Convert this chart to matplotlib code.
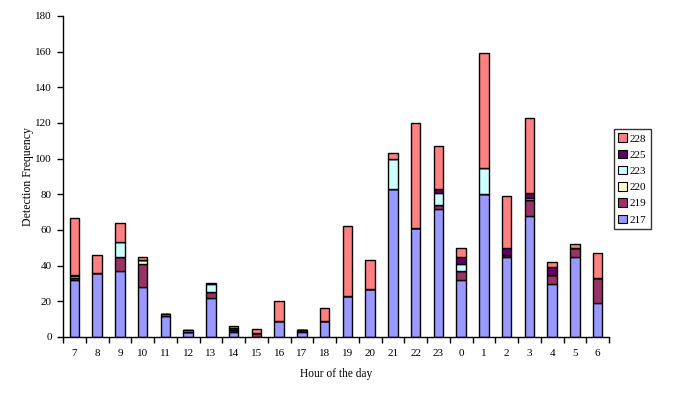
import matplotlib
matplotlib.use("Agg")
import matplotlib.pyplot as plt
import numpy as np
from matplotlib.patches import Patch

hours = ["7","8","9","10","11","12","13","14","15","16","17","18","19","20","21","22","23","0","1","2","3","4","5","6"]
s217 = [32,36,37,28,12,3,22,3,0,9,3,9,23,27,83,61,72,32,80,45,68,30,45,19]
s219 = [1,0,8,13,0,0,3,1,2,0,1,0,0,0,0,0,2,5,0,1,9,5,5,14]
s220 = [0,0,0,2,1,0,0,0,0,0,0,0,0,0,0,0,0,0,0,0,0,0,0,0]
s223 = [1,0,8,0,0,1,5,0,0,0,0,0,0,0,17,0,7,4,15,0,1,0,0,0]
s225 = [1,0,0,0,0,0,0,1,0,0,0,0,0,0,0,0,2,4,0,4,3,4,0,0]
s228 = [32,10,11,2,0,0,0,1,2.5,11,0,7,39,16,3,59,24,5,64,29,42,3,2,14]

series = [("217", s217, "#9999FF"), ("219", s219, "#993366"), ("220", s220, "#FFFFCC"),
          ("223", s223, "#CCFFFF"), ("225", s225, "#660066"), ("228", s228, "#FF8080")]

plt.rcParams['font.family'] = ['Liberation Serif', 'DejaVu Serif']
fig = plt.figure(figsize=(6.75, 3.94), dpi=100)
ax = fig.add_axes([63/675, 1-337/394, (609-63)/675, (337-16)/394])

x = np.arange(len(hours))
bottom = np.zeros(len(hours))
for name, vals, col in series:
    v = np.array(vals, dtype=float)
    ax.bar(x, v, bottom=bottom, width=0.42, color=col, edgecolor="black", linewidth=1.0, zorder=2)
    bottom += v

ax.set_xlim(-0.5, len(hours)-0.5)
ax.set_ylim(0, 180)
ax.set_yticks(np.arange(0, 181, 20))
ax.set_xticks(x)
ax.set_xticklabels(hours)
ax.set_xticks(np.arange(-0.5, len(hours), 1), minor=True)
ax.tick_params(axis='x', which='major', length=0, labelsize=8, pad=9)
ax.tick_params(axis='x', which='minor', length=4, width=1, direction='out')
ax.tick_params(axis='y', length=4, width=1, direction='out', labelsize=8, pad=4)
for s in ['top', 'right']:
    ax.spines[s].set_visible(False)
for s in ['left', 'bottom']:
    ax.spines[s].set_linewidth(1.0)
ax.set_xlabel("Hour of the day", fontsize=8.3, labelpad=7)
ax.set_ylabel("Detection Frequency", fontsize=8.5, labelpad=1)

handles = [Patch(facecolor=col, edgecolor="black", linewidth=0.8, label=name) for name, vals, col in reversed(series)]
leg = fig.legend(handles=handles, loc='upper left', bbox_to_anchor=(614/675, 1-129/394),
                 fontsize=8, frameon=True, fancybox=False, edgecolor='black',
                 handlelength=0.8, handleheight=0.8, handletextpad=0.2, labelspacing=0.55,
                 borderpad=0.4, borderaxespad=0)
leg.get_frame().set_linewidth(1.0)

fig.savefig("out.png", dpi=100)
